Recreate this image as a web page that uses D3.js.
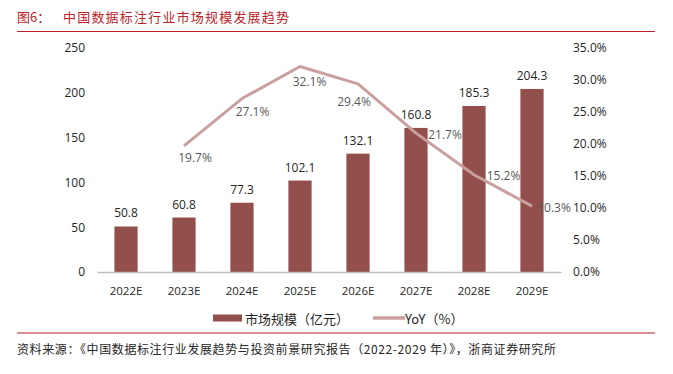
<!DOCTYPE html>
<html>
<head>
<meta charset="utf-8">
<script src="https://cdn.jsdelivr.net/npm/d3@7.9.0/dist/d3.min.js"></script>
<style>
  body { margin: 0; background: #fff; }
  svg { display: block; }
</style>
</head>
<body>
<svg id="chart"></svg>
<script>
const years = ["2022E", "2023E", "2024E", "2025E", "2026E", "2027E", "2028E", "2029E"];
const marketSize = [50.8, 60.8, 77.3, 102.1, 132.1, 160.8, 185.3, 204.3];
const yoyYears = ["2023E", "2024E", "2025E", "2026E", "2027E", "2028E", "2029E"];
const yoy = [19.7, 27.1, 32.1, 29.4, 21.7, 15.2, 10.3];
const leftTicks = [0, 50, 100, 150, 200, 250];
const rightTicks = [0, 5, 10, 15, 20, 25, 30, 35];

// where each YoY label sits relative to its point (as in the source chart)
const yoyLabelOffset = [[11, 12], [10.5, 12.5], [9.5, 15], [-4, 18], [29, 1], [29.5, 1], [22, 1]];

const svgWidth = 673;
const svgHeight = 374;
const plot = { left: 97, right: 561, top: 48, bottom: 272 };

const barColor = "#934f4b";
const lineColor = "#c9a09e";
const red = "#bd2129";
const tickFont = "'Open Sans', 'Noto Sans', sans-serif";
const cjkFont = "'Noto Sans CJK SC', 'Noto Sans', sans-serif";

const svg = d3.select("#chart")
  .attr("width", svgWidth)
  .attr("height", svgHeight);

// title
svg.append("text")
  .attr("x", 17)
  .attr("y", 22)
  .style("font-family", cjkFont)
  .style("font-size", "13px")
  .style("fill", red)
  .text("图6：");

svg.append("text")
  .attr("x", 63)
  .attr("y", 22)
  .style("font-family", cjkFont)
  .style("font-size", "13px")
  .style("letter-spacing", "1.2px")
  .style("fill", red)
  .text("中国数据标注行业市场规模发展趋势");

svg.append("line")
  .attr("x1", 17).attr("x2", 655)
  .attr("y1", 31.5).attr("y2", 31.5)
  .attr("stroke", red)
  .attr("stroke-width", 1.2);

const xScale = d3.scaleBand()
  .domain(years)
  .range([plot.left, plot.right])
  .paddingInner(0.6)
  .paddingOuter(0.3);

const yLeft = d3.scaleLinear().domain([0, 250]).range([plot.bottom, plot.top]);
const yRight = d3.scaleLinear().domain([0, 35]).range([plot.bottom, plot.top]);

// left axis
const leftAxis = svg.append("g")
  .attr("transform", `translate(${plot.left - 12}, 0)`)
  .call(d3.axisLeft(yLeft).tickValues(leftTicks).tickSize(0).tickPadding(0));
leftAxis.select(".domain").remove();
leftAxis.selectAll("text")
  .style("font-family", tickFont)
  .style("font-size", "12px")
  .style("fill", "#262626");

// right axis
const rightAxis = svg.append("g")
  .attr("transform", `translate(${plot.right + 12}, 0)`)
  .call(d3.axisRight(yRight).tickValues(rightTicks).tickSize(0).tickPadding(0)
    .tickFormat((d) => d.toFixed(1) + "%"));
rightAxis.select(".domain").remove();
rightAxis.selectAll("text")
  .style("font-family", tickFont)
  .style("font-size", "12px")
  .style("fill", "#262626");

// bars
svg.selectAll("rect.bar")
  .data(marketSize)
  .enter()
  .append("rect")
  .attr("class", "bar")
  .attr("x", (d, i) => xScale(years[i]))
  .attr("y", (d) => yLeft(d))
  .attr("width", xScale.bandwidth())
  .attr("height", (d) => yLeft(0) - yLeft(d))
  .attr("fill", barColor);

svg.selectAll("text.barLabel")
  .data(marketSize)
  .enter()
  .append("text")
  .attr("class", "barLabel")
  .attr("x", (d, i) => xScale(years[i]) + xScale.bandwidth() / 2)
  .attr("y", (d) => yLeft(d) - 13.5)
  .attr("text-anchor", "middle")
  .attr("dominant-baseline", "central")
  .style("font-family", tickFont)
  .style("font-size", "12px")
  .style("fill", "#262626")
  .text((d) => d.toFixed(1));

// x axis
const xAxis = svg.append("g")
  .attr("transform", `translate(0, ${plot.bottom})`)
  .call(d3.axisBottom(xScale).tickSize(0).tickPadding(15));
xAxis.select(".domain")
  .attr("stroke", "#bfbfbf")
  .attr("stroke-width", 1.5);
xAxis.selectAll("text")
  .style("font-family", tickFont)
  .style("font-size", "11.5px")
  .style("fill", "#262626");

// YoY line
const line = d3.line()
  .x((d, i) => xScale(yoyYears[i]) + xScale.bandwidth() / 2)
  .y((d) => yRight(d));

svg.append("path")
  .datum(yoy)
  .attr("d", line)
  .attr("fill", "none")
  .attr("stroke", lineColor)
  .attr("stroke-width", 3)
  .attr("stroke-linejoin", "round");

svg.selectAll("text.yoyLabel")
  .data(yoy)
  .enter()
  .append("text")
  .attr("class", "yoyLabel")
  .attr("x", (d, i) => xScale(yoyYears[i]) + xScale.bandwidth() / 2 + yoyLabelOffset[i][0])
  .attr("y", (d, i) => yRight(d) + yoyLabelOffset[i][1])
  .attr("text-anchor", "middle")
  .attr("dominant-baseline", "central")
  .style("font-family", tickFont)
  .style("font-size", "12px")
  .style("fill", "#595959")
  .text((d) => d.toFixed(1) + "%");

// legend
const legend = svg.append("g").attr("transform", "translate(0, 318)");
legend.append("rect")
  .attr("x", 213).attr("y", -3.5)
  .attr("width", 29).attr("height", 7)
  .attr("fill", barColor);
legend.append("text")
  .attr("x", 245).attr("y", 0)
  .attr("dominant-baseline", "central")
  .style("font-family", cjkFont)
  .style("font-size", "13px")
  .style("fill", "#262626")
  .text("市场规模（亿元）");
legend.append("line")
  .attr("x1", 373).attr("x2", 405)
  .attr("y1", 0).attr("y2", 0)
  .attr("stroke", lineColor)
  .attr("stroke-width", 3.5);
legend.append("text")
  .attr("x", 405).attr("y", 0)
  .attr("dominant-baseline", "central")
  .style("font-family", cjkFont)
  .style("font-size", "13px")
  .style("fill", "#262626")
  .text("YoY（%）");

// bottom rule and source
svg.append("line")
  .attr("x1", 17).attr("x2", 655)
  .attr("y1", 333).attr("y2", 333)
  .attr("stroke", red)
  .attr("stroke-width", 1.2);

svg.append("text")
  .attr("x", 17)
  .attr("y", 348)
  .attr("dominant-baseline", "central")
  .style("font-family", cjkFont)
  .style("font-size", "12px")
  .style("letter-spacing", "0.6px")
  .style("fill", "#262626")
  .text("资料来源：《中国数据标注行业发展趋势与投资前景研究报告（2022-2029 年）》，浙商证券研究所");
</script>
</body>
</html>
